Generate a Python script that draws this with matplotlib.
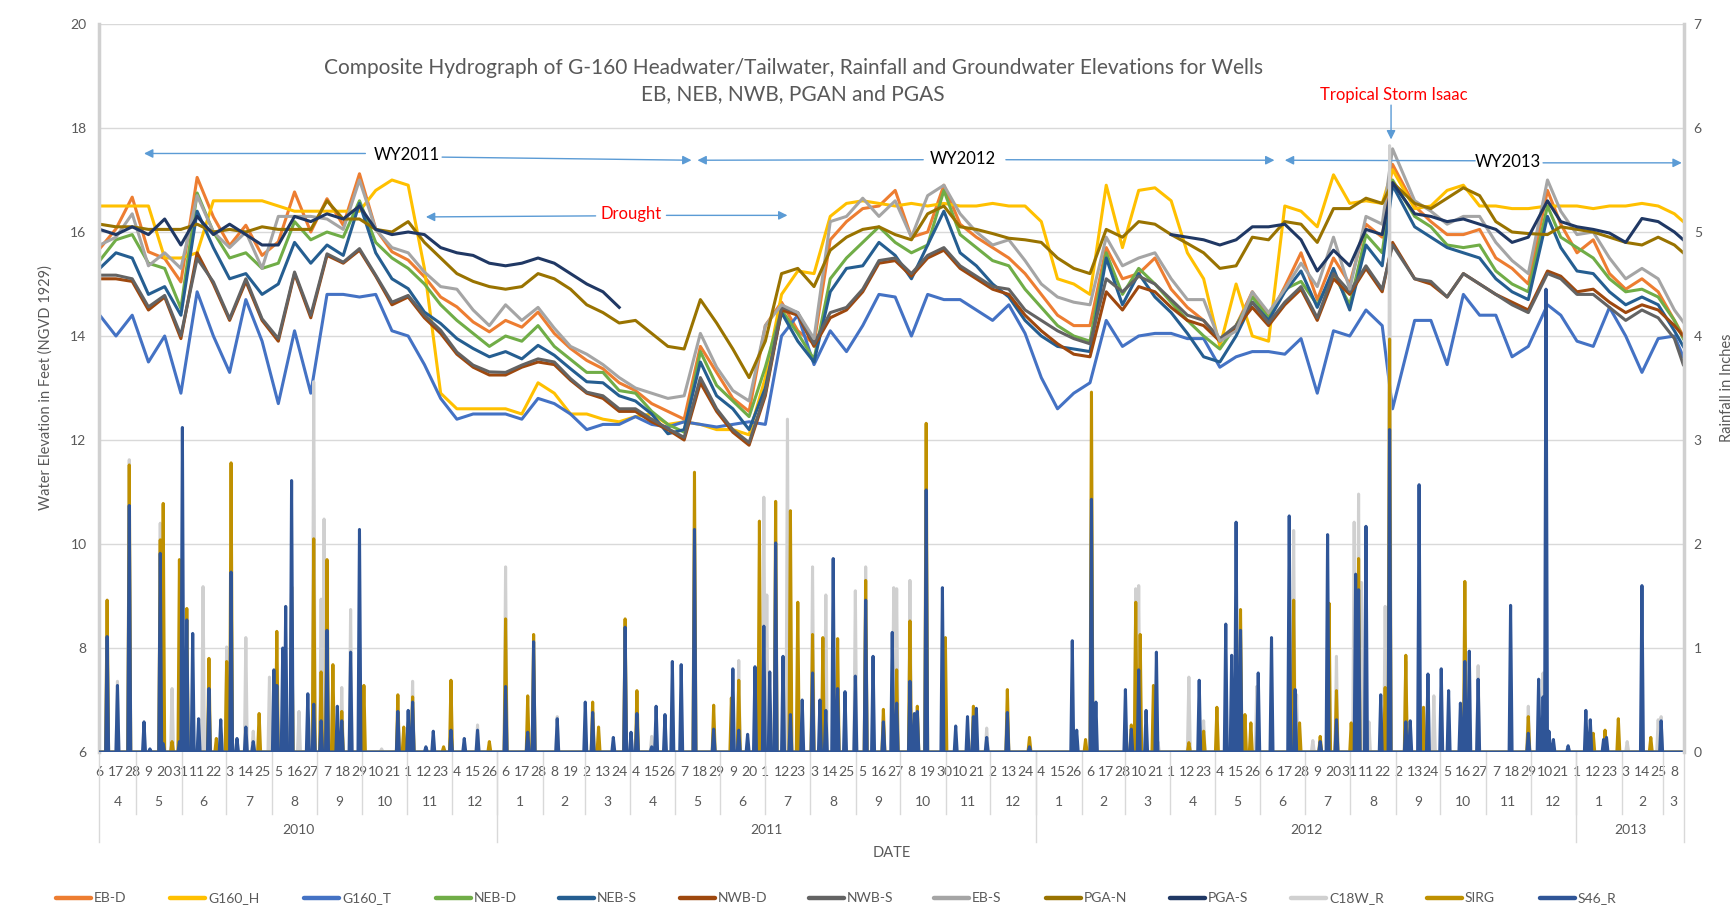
import numpy as np
import pandas as pd
import matplotlib
matplotlib.use("Agg")
import matplotlib.pyplot as plt
import matplotlib.transforms as mtransforms
from matplotlib.lines import Line2D

plt.rcParams['font.family'] = ['Lato', 'DejaVu Sans']

TXT = '#595959'
GRID = '#D9D9D9'

# daily record on the category axis
dates = pd.date_range('2010-04-06', '2013-03-14', freq='D')
n_days = len(dates)

sample_day = list(range(0, 1068, 11)) + [1073]
sample_day[80] = 876   # Isaac peak
sample_day[89] = 981   # Dec 2012 peak

# ---- stage / groundwater elevations (ft NGVD 1929) ----
eb_d = [15.68, 16.06, 16.67, 15.62, 15.49, 15.04, 17.05, 16.29, 15.74, 16.13, 15.55, 15.81, 16.77, 16.0,
        16.64, 16.13, 17.12, 16.06, 15.62, 15.46, 15.14, 14.75, 14.56, 14.27, 14.08, 14.3, 14.17, 14.46,
        14.05, 13.76, 13.53,
        13.37, 13.1, 12.95, 12.7, 12.55, 12.4, 13.8, 13.3, 12.8, 12.55, 14.2, 14.65, 14.1, 13.85, 15.85,
        16.2, 16.45, 16.5, 16.8, 15.9, 16.0, 16.9, 16.15, 15.9, 15.7, 15.5, 15.2, 14.8, 14.4, 14.2, 14.2,
        15.7, 15.1, 15.2,
        15.5, 14.9, 14.55, 14.3, 13.9, 14.2, 14.85, 14.35, 14.95, 15.6, 14.7, 15.5, 15.0, 16.15, 15.9,
        17.3, 16.5, 16.2, 15.95, 15.95, 16.05, 15.5, 15.3, 15.0, 16.8, 16.15, 15.6, 15.85, 15.2, 14.9,
        15.1, 14.85, 14.3, 14.0]
g160_h = [16.5, 16.5, 16.5, 16.5, 15.5, 15.5, 15.6, 16.6, 16.6, 16.6, 16.6, 16.5, 16.4, 16.4, 16.4, 16.4,
          16.4, 16.8, 17.0, 16.9, 15.3, 12.9, 12.6, 12.6, 12.6, 12.6, 12.5, 13.1, 12.9, 12.5, 12.5,
          12.4, 12.35, 12.45, 12.5, 12.3, 12.35, 12.3, 12.2, 12.2, 12.1, 13.2, 14.8, 15.25, 15.2, 16.3,
          16.55, 16.6, 16.55, 16.5, 16.55, 16.5, 16.55, 16.5, 16.5, 16.55, 16.5, 16.5, 16.2, 15.1, 15.0,
          14.8, 16.9, 15.7, 16.8,
          16.85, 16.6, 15.6, 15.1, 13.8, 15.0, 14.0, 13.9, 16.5, 16.4, 16.1, 17.1, 16.55, 16.6, 16.55,
          17.2, 16.45, 16.5, 16.8, 16.9, 16.5, 16.5, 16.45, 16.45, 16.5, 16.5, 16.5, 16.45, 16.5, 16.5,
          16.55, 16.5, 16.35, 16.2]
g160_t = [14.4, 14.0, 14.4, 13.5, 14.0, 12.9, 14.85, 14.0, 13.3, 14.7, 13.9, 12.7, 14.1, 12.9, 14.8,
          14.8, 14.75, 14.8, 14.1, 14.0, 13.45, 12.8, 12.4, 12.5, 12.5, 12.5, 12.4, 12.8, 12.7, 12.5, 12.2,
          12.3, 12.3, 12.45, 12.3, 12.25, 12.35, 12.3, 12.25, 12.3, 12.35, 12.3, 14.0, 14.4, 13.45, 14.1,
          13.7, 14.2, 14.8, 14.75, 14.0, 14.8, 14.7, 14.7, 14.5, 14.3, 14.6, 14.05, 13.2, 12.6, 12.9, 13.1,
          14.3, 13.8, 14.0,
          14.05, 14.05, 13.95, 13.95, 13.4, 13.6, 13.7, 13.7, 13.65, 13.95, 12.9, 14.1, 14.0, 14.5, 14.2,
          12.6, 14.3, 14.3, 13.45, 14.8, 14.4, 14.4, 13.6, 13.8, 14.6, 14.4, 13.9, 13.8, 14.55, 14.0,
          13.3, 13.95, 14.0, 13.6]
neb_d = [15.45, 15.85, 15.95, 15.4, 15.3, 14.53, 16.75, 16.0, 15.5, 15.6, 15.3, 15.4, 16.2, 15.85, 16.0,
         15.9, 16.6, 15.8, 15.5, 15.3, 15.0, 14.6, 14.3, 14.05, 13.8, 14.0, 13.9, 14.2, 13.8, 13.55, 13.3,
         13.3, 12.95, 12.9, 12.55, 12.3, 12.15, 13.7, 13.05, 12.75, 12.45, 13.4, 14.5, 14.05, 13.55, 15.1,
         15.5, 15.8, 16.1, 15.8, 15.6, 15.75, 16.8, 15.95, 15.7, 15.45, 15.35, 14.9, 14.55, 14.2, 14.0,
         13.9, 15.6, 14.8, 15.3,
         15.0, 14.65, 14.3, 14.0, 13.75, 14.2, 14.75, 14.35, 14.9, 15.05, 14.6, 15.2, 14.6, 15.95, 15.6,
         17.0, 16.3, 16.1, 15.75, 15.7, 15.75, 15.25, 15.0, 14.85, 16.5, 15.9, 15.7, 15.5, 15.1, 14.85,
         14.9, 14.75, 14.3, 13.95]
neb_s = [15.3, 15.6, 15.5, 14.8, 14.95, 14.4, 16.4, 15.7, 15.1, 15.2, 14.8, 15.0, 15.8, 15.4, 15.75,
         15.55, 16.55, 15.6, 15.1, 14.91, 14.46, 14.24, 13.95, 13.76, 13.6, 13.7, 13.56, 13.82, 13.63,
         13.37, 13.12,
         13.1, 12.85, 12.75, 12.5, 12.12, 12.2, 13.5, 12.85, 12.6, 12.2, 13.0, 14.45, 13.9, 13.5, 14.85,
         15.3, 15.35, 15.8, 15.55, 15.1, 15.75, 16.4, 15.6, 15.35, 15.0, 14.75, 14.3, 14.0, 13.8, 13.75,
         13.7, 15.5, 14.6, 15.2,
         14.75, 14.45, 14.05, 13.6, 13.5, 14.0, 14.65, 14.3, 14.85, 15.25, 14.55, 15.3, 14.5, 15.75,
         15.35, 16.9, 16.1, 15.9, 15.7, 15.6, 15.5, 15.1, 14.85, 14.7, 16.3, 15.7, 15.25, 15.2, 14.85,
         14.6, 14.75, 14.6, 14.1, 13.8]
nwb_d = [15.1, 15.1, 15.05, 14.5, 14.75, 13.95, 15.6, 15.0, 14.3, 15.05, 14.3, 13.9, 15.2, 14.35, 15.55,
         15.4, 15.65, 15.15, 14.6, 14.75, 14.35, 14.05, 13.65, 13.4, 13.25, 13.25, 13.4, 13.5, 13.45,
         13.15, 12.9,
         12.8, 12.55, 12.55, 12.35, 12.2, 12.0, 13.1, 12.55, 12.15, 11.9, 12.85, 14.5, 14.4, 13.8, 14.35,
         14.5, 14.85, 15.4, 15.45, 15.15, 15.5, 15.65, 15.3, 15.1, 14.9, 14.8, 14.4, 14.1, 13.85, 13.65,
         13.6, 14.85, 14.5, 14.95,
         14.85, 14.55, 14.3, 14.2, 13.9, 14.15, 14.55, 14.2, 14.6, 14.9, 14.3, 15.1, 14.8, 15.3, 14.85,
         15.8, 15.1, 15.0, 14.75, 15.2, 15.0, 14.8, 14.65, 14.5, 15.25, 15.15, 14.85, 14.9, 14.65, 14.45,
         14.6, 14.5, 14.2, 14.0]
nwb_s = [15.17, 15.17, 15.1, 14.56, 14.78, 14.01, 15.49, 15.04, 14.33, 15.1, 14.33, 13.95, 15.23, 14.4,
         15.58, 15.42, 15.68, 15.17, 14.65, 14.78, 14.4, 14.11, 13.69, 13.44, 13.31, 13.3, 13.44, 13.56,
         13.5, 13.18, 12.92,
         12.85, 12.6, 12.6, 12.4, 12.22, 12.05, 13.2, 12.6, 12.2, 11.95, 12.9, 14.55, 14.45, 13.85,
         14.45, 14.55, 14.9, 15.45, 15.5, 15.2, 15.55, 15.7, 15.35, 15.15, 14.95, 14.9, 14.5, 14.3, 14.1,
         13.95, 13.85, 15.1, 14.85, 15.15,
         15.0, 14.7, 14.4, 14.3, 13.95, 14.2, 14.65, 14.25, 14.65, 14.95, 14.35, 15.2, 14.85, 15.35,
         14.9, 15.75, 15.1, 15.05, 14.75, 15.2, 15.0, 14.8, 14.6, 14.45, 15.2, 15.1, 14.8, 14.8, 14.55,
         14.3, 14.5, 14.35, 13.95, 13.45]
eb_s = [15.75, 15.9, 16.35, 15.35, 15.6, 15.3, 16.7, 16.0, 15.7, 16.0, 15.3, 16.3, 16.3, 16.3, 16.25,
        16.05, 17.0, 16.05, 15.7, 15.6, 15.23, 14.95, 14.9, 14.5, 14.2, 14.6, 14.3, 14.55, 14.15, 13.8,
        13.65,
        13.45, 13.2, 13.0, 12.9, 12.8, 12.85, 14.05, 13.4, 12.95, 12.75, 14.2, 14.6, 14.45, 13.95, 16.2,
        16.3, 16.65, 16.3, 16.6, 15.9, 16.7, 16.9, 16.35, 16.0, 15.75, 15.85, 15.45, 15.0, 14.75, 14.65,
        14.6, 15.9, 15.35, 15.5,
        15.6, 15.1, 14.7, 14.7, 13.9, 14.1, 14.85, 14.45, 14.9, 15.4, 14.95, 15.9, 14.9, 16.3, 16.15,
        17.6, 16.6, 16.4, 16.15, 16.3, 16.3, 15.8, 15.45, 15.2, 17.0, 16.4, 15.95, 16.0, 15.5, 15.1,
        15.3, 15.1, 14.5, 14.27]
pga_n = [16.15, 16.1, 16.1, 16.05, 16.05, 16.05, 16.15, 16.0, 16.05, 16.0, 16.1, 16.05, 16.05, 16.05,
         16.6, 16.25, 16.25, 16.05, 16.0, 16.2, 15.8, 15.5, 15.2, 15.05, 14.95, 14.9, 14.95, 15.2, 15.1,
         14.9, 14.6,
         14.45, 14.25, 14.3, 14.05, 13.8, 13.75, 14.7, 14.25, 13.75, 13.2, 13.9, 15.2, 15.3, 14.95, 15.65,
         15.9, 16.05, 16.1, 15.95, 15.85, 16.35, 16.5, 16.1, 16.05, 15.97, 15.88, 15.85, 15.8, 15.5,
         15.3, 15.2, 16.05, 15.9, 16.2,
         16.15, 15.95, 15.78, 15.6, 15.3, 15.35, 15.9, 15.85, 16.2, 16.15, 15.8, 16.45, 16.45, 16.65,
         16.55, 16.95, 16.55, 16.45, 16.65, 16.85, 16.7, 16.2, 16.0, 15.97, 15.95, 16.1, 16.05, 16.0,
         15.9, 15.8, 15.75, 15.9, 15.75, 15.6]
# PGA-S has no record from mid-April 2011 to mid-March 2012
pga_s = ([16.05, 15.95, 16.1, 15.95, 16.25, 15.75, 16.3, 15.95, 16.15, 15.95, 15.75, 15.75, 16.3, 16.2,
          16.35, 16.25, 16.5, 16.05, 15.95, 16.0, 15.95, 15.7, 15.6, 15.55, 15.4, 15.35, 15.4, 15.5,
          15.4, 15.2, 15.0, 14.85, 14.55]
         + [np.nan] * 33
         + [15.95, 15.9, 15.85, 15.75, 15.85, 16.1, 16.1, 16.15, 15.85, 15.25, 15.65, 15.35, 16.05,
            15.95, 16.95, 16.35, 16.3, 16.2, 16.25, 16.15, 16.05, 15.8, 15.9, 16.6, 16.2, 16.1, 16.05,
            15.98, 15.8, 16.26, 16.2, 16.0, 15.85])

# ---- daily rainfall (inches): (day index, amount), all other days 0 ----
c18w_events = [(5, 1.46), (12, 0.68), (20, 2.81), (41, 2.2), (49, 0.61), (56, 0.3), (70, 1.59),
               (86, 1.01), (99, 1.1), (104, 0.2), (115, 0.72), (130, 1.59), (135, 0.39), (145, 3.56),
               (150, 1.47), (152, 2.24), (164, 0.62), (170, 1.37), (191, 0.03), (212, 0.68), (256, 0.26),
               (275, 1.78), (310, 0.34), (374, 0.15), (433, 0.88), (450, 2.45), (452, 1.51), (466, 3.2),
               (483, 1.78), (492, 1.51), (512, 1.55), (519, 1.78), (538, 1.58), (540, 1.57), (549, 1.65),
               (601, 0.23), (702, 1.57), (704, 1.6), (717, 0.1), (738, 0.72), (748, 0.3), (784, 0.63),
               (809, 2.13), (811, 0.55), (822, 0.11), (838, 0.92), (850, 2.21), (853, 2.48), (855, 1.63),
               (860, 0.29), (871, 1.4), (874, 5.83), (885, 0.87), (904, 0.54), (934, 0.83), (968, 0.44),
               (978, 0.76), (1035, 0.1), (1056, 0.31), (1058, 0.34)]
sirg_events = [(5, 1.46), (20, 2.76), (41, 2.04), (43, 2.39), (49, 0.1), (54, 1.85), (59, 1.38),
               (74, 0.9), (79, 0.13), (86, 0.87), (89, 2.78), (108, 0.37), (120, 1.16), (130, 1.59),
               (145, 2.05), (150, 0.77), (154, 1.85), (158, 0.84), (164, 0.39), (179, 0.64), (202, 0.55),
               (206, 0.24), (212, 0.53), (233, 0.05), (238, 0.69), (264, 0.1), (275, 1.28), (290, 0.54),
               (294, 1.13), (334, 0.48), (338, 0.24), (356, 1.28), (364, 0.59), (403, 2.69), (416, 0.45),
               (428, 0.52), (433, 0.69), (447, 2.22), (458, 2.41), (468, 2.32), (473, 1.44), (483, 1.13),
               (490, 1.1), (500, 1.09), (519, 1.65), (531, 0.41), (540, 0.79), (549, 1.26), (554, 0.44),
               (560, 3.16), (573, 1.1), (592, 0.44), (615, 0.6), (630, 0.14), (668, 0.12), (672, 3.46),
               (699, 0.26), (702, 1.44), (705, 1.13), (714, 0.64), (738, 0.09), (748, 0.2), (757, 0.43),
               (773, 1.37), (776, 0.36), (780, 0.28), (809, 1.46), (813, 0.28), (827, 0.15), (833, 1.43),
               (838, 0.59), (848, 0.28), (853, 1.86), (871, 0.62), (874, 3.97), (885, 0.93), (897, 0.43),
               (925, 1.64), (968, 0.34), (1012, 0.18), (1020, 0.21), (1029, 0.32), (1051, 0.14)]
s46_events = [(5, 1.11), (12, 0.64), (20, 2.37), (30, 0.29), (34, 0.03), (41, 1.91), (43, 0.08),
              (54, 0.1), (56, 3.12), (59, 1.27), (63, 1.14), (67, 0.32), (74, 0.61), (82, 0.31), (89, 1.73),
              (93, 0.13), (99, 0.24), (104, 0.1), (118, 0.79), (120, 0.64), (124, 1.0), (126, 1.4),
              (130, 2.61), (141, 0.56), (145, 0.46), (150, 0.3), (154, 1.17), (161, 0.44), (164, 0.3),
              (170, 0.96), (176, 2.14), (202, 0.39), (209, 0.4), (212, 0.48), (221, 0.05), (226, 0.2),
              (238, 0.21), (247, 0.13), (256, 0.21), (275, 0.63), (290, 0.19), (294, 1.06), (310, 0.32),
              (329, 0.48), (334, 0.38), (348, 0.14), (356, 1.2), (360, 0.19), (364, 0.37), (374, 0.05),
              (377, 0.44), (383, 0.36), (388, 0.87), (394, 0.84), (403, 2.14), (416, 0.22), (429, 0.8),
              (433, 0.21), (439, 0.17), (444, 0.82), (450, 1.21), (454, 0.77), (458, 2.01), (463, 0.92),
              (468, 0.36), (476, 0.5), (483, 0.76), (488, 0.5), (492, 0.4), (497, 1.86), (500, 0.61),
              (505, 0.58), (512, 0.73), (519, 1.46), (524, 0.92), (531, 0.29), (537, 1.15), (540, 0.47),
              (549, 0.68), (552, 0.37), (554, 0.39), (560, 2.52), (571, 1.58), (580, 0.25), (588, 0.34),
              (592, 0.34), (594, 0.42), (601, 0.14), (615, 0.38), (630, 0.05), (659, 1.07), (662, 0.21),
              (672, 2.43), (675, 0.48), (695, 0.6), (699, 0.22), (704, 0.79), (709, 0.4), (716, 0.96),
              (745, 0.69), (763, 1.23), (767, 0.93), (770, 2.21), (773, 1.17), (785, 0.76), (794, 1.1),
              (806, 2.27), (810, 0.6), (827, 0.1), (832, 2.09), (838, 0.31), (851, 1.71), (853, 1.56),
              (858, 2.17), (868, 0.55), (874, 3.1), (885, 0.29), (888, 0.3), (894, 2.57), (900, 0.75),
              (909, 0.8), (914, 0.59), (922, 0.47), (925, 0.87), (928, 0.97), (934, 0.7), (956, 1.41),
              (968, 0.18), (975, 0.7), (978, 0.53), (980, 4.45), (982, 0.2), (985, 0.12), (995, 0.06),
              (1007, 0.4), (1010, 0.31), (1019, 0.12), (1021, 0.14), (1045, 1.6), (1058, 0.3)]

stage_series = [('EB-D', eb_d, '#ED7D31'), ('G160_H', g160_h, '#FFC000'), ('G160_T', g160_t, '#4472C4'),
                ('NEB-D', neb_d, '#70AD47'), ('NEB-S', neb_s, '#255E91'), ('NWB-D', nwb_d, '#9E480E'),
                ('NWB-S', nwb_s, '#636363'), ('EB-S', eb_s, '#A5A5A5'), ('PGA-N', pga_n, '#997300'),
                ('PGA-S', pga_s, '#203864')]
rain_series = [('C18W_R', c18w_events, '#D0D0D0'), ('SIRG', sirg_events, '#BF9000'),
               ('S46_R', s46_events, '#2F5597')]


def daily(events):
    vals = np.zeros(n_days)
    for d, v in events:
        vals[d] = v
    return vals


fig = plt.figure(figsize=(17.32, 9.19), dpi=100)
ax = fig.add_axes([99 / 1732, 1 - 752 / 919, 1585 / 1732, 728 / 919])

for name, vals, col in stage_series:
    ax.plot(sample_day, vals, color=col, lw=2.2, solid_joinstyle='round')

ax.set_xlim(-0.5, n_days - 0.5)
ax.set_ylim(6, 20)
ax.set_yticks(range(6, 21, 2))
ax.grid(axis='y', color=GRID, lw=1)
ax.set_axisbelow(True)
ticks = list(range(0, n_days, 11))
ax.set_xticks(ticks)
ax.set_xticklabels([str(dates[i].day) for i in ticks])
ax.tick_params(axis='x', length=0, labelsize=10, labelcolor=TXT, pad=10)
ax.tick_params(axis='y', length=0, labelsize=10, labelcolor=TXT, pad=9)
for s in ['top', 'bottom', 'right']:
    ax.spines[s].set_visible(False)
ax.spines['left'].set_color('#D0D0D0')
ax.spines['left'].set_linewidth(2.5)
ax.set_ylabel('Water Elevation in Feet (NGVD 1929)', fontsize=10.5, color=TXT)
ax.yaxis.set_label_coords(-0.029, 0.5)

ax2 = ax.twinx()
for name, ev, col in rain_series:
    ax2.plot(np.arange(n_days), daily(ev), color=col, lw=2.2, solid_joinstyle='round')
ax2.set_ylim(0, 7)
ax2.set_yticks(range(0, 8))
ax2.tick_params(axis='y', length=0, labelsize=10, labelcolor=TXT, pad=7)
for s in ['top', 'bottom', 'left']:
    ax2.spines[s].set_visible(False)
ax2.spines['right'].set_color('#D0D0D0')
ax2.spines['right'].set_linewidth(2.5)
ax2.set_ylabel('Rainfall in Inches', fontsize=10.5, color=TXT)
ax2.yaxis.set_label_coords(1.0227, 0.5)

# multi-level category axis: month and year rows with separators
trans = mtransforms.blended_transform_factory(ax.transData, ax.transAxes)
idx = pd.Series(np.arange(n_days), index=dates)
for (yr, mo), grp in idx.groupby([dates.year, dates.month]):
    ax.text((grp.iloc[0] + grp.iloc[-1]) / 2, -0.068, str(mo), transform=trans,
            ha='center', va='center', fontsize=10, color=TXT)
for yr, grp in idx.groupby(dates.year):
    ax.text((grp.iloc[0] + grp.iloc[-1]) / 2, -0.107, str(yr), transform=trans,
            ha='center', va='center', fontsize=10, color=TXT)
month_edges = [i - 0.5 for i in range(1, n_days) if dates[i].day == 1]
year_edges = [i - 0.5 for i in range(1, n_days) if dates[i].day == 1 and dates[i].month == 1]
year_edges = [-0.5] + year_edges + [n_days - 0.5]
for x in month_edges:
    ax.add_line(Line2D([x, x], [0, -0.085], transform=trans, clip_on=False, color=GRID, lw=1))
for x in year_edges:
    ax.add_line(Line2D([x, x], [0, -0.124], transform=trans, clip_on=False, color=GRID, lw=1))
ax.text(0.5, -0.139, 'DATE', transform=ax.transAxes, ha='center', va='center', fontsize=10.5, color=TXT)

# title
fig.text(0.458, 0.912, 'Composite Hydrograph of G-160 Headwater/Tailwater, Rainfall and Groundwater '
         'Elevations for Wells\nEB, NEB, NWB, PGAN and PGAS',
         ha='center', va='center', fontsize=15, color=TXT, linespacing=1.4)

# water-year / event annotations
arrow = dict(arrowstyle='-|>', color='#5B9BD5', lw=1, mutation_scale=13, shrinkA=0, shrinkB=0)
notes = [('WY2011', 208, 17.49, 'black', [(180, 17.51, 30, 17.51), (232, 17.44, 401, 17.38)]),
         ('WY2012', 585, 17.41, 'black', [(558, 17.39, 405, 17.38), (614, 17.39, 796, 17.38)]),
         ('WY2013', 954, 17.35, 'black', [(932, 17.37, 803, 17.38), (978, 17.33, 1072, 17.33)]),
         ('Drought', 360, 16.35, 'red', [(336, 16.31, 221, 16.29), (384, 16.32, 466, 16.32)]),
         ('Tropical Storm Isaac', 877, 18.63, 'red', [(875, 18.44, 875, 17.78)])]
for label, x, y, col, arrows in notes:
    ax.text(x, y, label, ha='center', va='center', fontsize=12, color=col, zorder=5)
    for x0, y0, x1, y1 in arrows:
        ax.annotate('', xy=(x1, y1), xytext=(x0, y0), arrowprops=arrow, zorder=5)

# legend along the bottom
legend_x = [56, 170, 304, 436, 559, 680, 809, 934, 1046, 1170, 1291, 1427, 1540]
entries = [(n, c) for n, v, c in stage_series] + [(n, c) for n, e, c in rain_series]
ly = 1 - 898 / 919
for (name, col), x0 in zip(entries, legend_x):
    fig.add_artist(Line2D([x0 / 1732, (x0 + 35) / 1732], [ly, ly], transform=fig.transFigure,
                          color=col, lw=3.2, solid_capstyle='round'))
    fig.text((x0 + 38) / 1732, ly, name, ha='left', va='center', fontsize=10, color=TXT)

fig.savefig('out.png', dpi=100, facecolor='white')
